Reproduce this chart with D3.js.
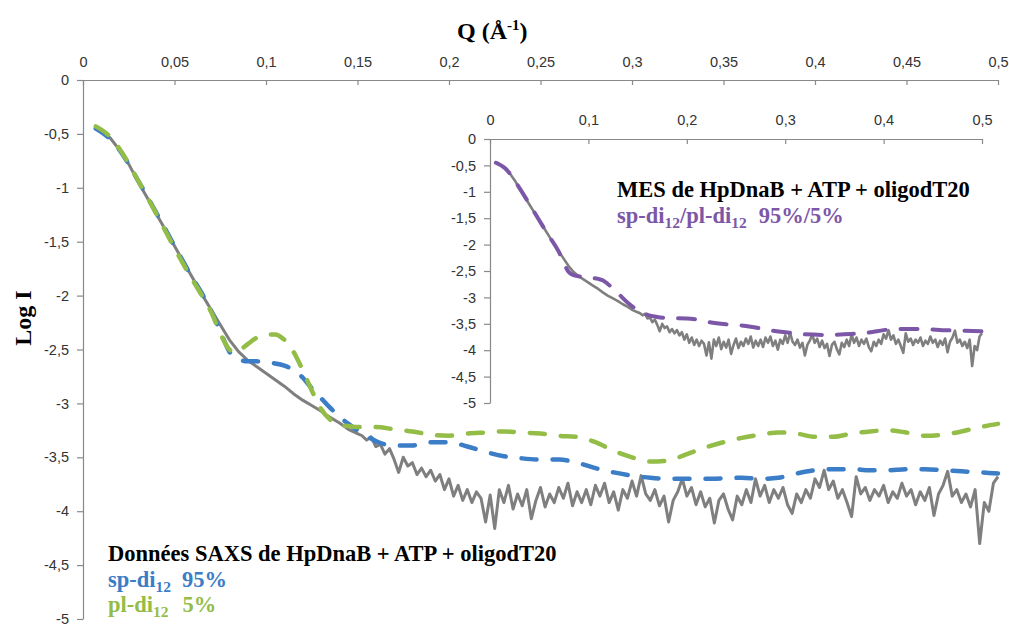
<!DOCTYPE html>
<html><head><meta charset="utf-8">
<script src="https://cdn.jsdelivr.net/npm/d3@7"></script>
<style>body{margin:0;background:#fff}svg{display:block}</style>
</head><body><div id="chart"></div>
<script>
// ---- data ----
const xTicks = [0,0.05,0.1,0.15,0.2,0.25,0.3,0.35,0.4,0.45,0.5];
const xTickLabels = ["0","0,05","0,1","0,15","0,2","0,25","0,3","0,35","0,4","0,45","0,5"];
const yTicks = [0,-0.5,-1,-1.5,-2,-2.5,-3,-3.5,-4,-4.5,-5];
const yTickLabels = ["0","-0,5","-1","-1,5","-2","-2,5","-3","-3,5","-4","-4,5","-5"];
const insetXTicks = [0,0.1,0.2,0.3,0.4,0.5];
const insetXTickLabels = ["0","0,1","0,2","0,3","0,4","0,5"];

// experimental SAXS curve (Q, log I)
const expQ = [0.007,0.01,0.015,0.02,0.025,0.03,0.035,0.04,0.045,0.05,0.055,0.06,0.065,0.07,0.075,0.08,0.085,0.09,0.095,0.1,0.105,0.11,0.115,0.12,0.125,0.13,0.135,0.14,0.145,
0.15,0.1525,0.155,0.1575,0.16,0.1625,0.165,0.1675,0.17,0.1725,0.175,0.1775,0.18,0.1825,0.185,0.1875,0.19,0.1925,0.195,0.1975,
0.2,0.2025,0.205,0.2075,0.21,0.2125,0.215,0.2175,0.22,0.2225,0.225,0.2275,0.23,0.2325,0.235,0.2375,0.24,0.2425,0.245,0.2475,
0.25,0.2525,0.255,0.2575,0.26,0.2625,0.265,0.2675,0.27,0.2725,0.275,0.2775,0.28,0.2825,0.285,0.2875,0.29,0.2925,0.295,0.2975,
0.3,0.3025,0.305,0.3075,0.31,0.3125,0.315,0.3175,0.32,0.3225,0.325,0.3275,0.33,0.3325,0.335,0.3375,0.34,0.3425,0.345,0.3475,
0.35,0.3525,0.355,0.3575,0.36,0.3625,0.365,0.3675,0.37,0.3725,0.375,0.3775,0.38,0.3825,0.385,0.3875,0.39,0.3925,0.395,0.3975,
0.4,0.4025,0.405,0.4075,0.41,0.4125,0.415,0.4175,0.42,0.4225,0.425,0.4275,0.43,0.4325,0.435,0.4375,0.44,0.4425,0.445,0.4475,
0.45,0.4525,0.455,0.4575,0.46,0.4625,0.465,0.4675,0.47,0.4725,0.475,0.4775,0.48,0.4825,0.485,0.4875,0.49,0.4925,0.495,0.4975,0.5];
const expLogI = [-0.44,-0.48,-0.54,-0.65,-0.78,-0.94,-1.09,-1.24,-1.39,-1.54,-1.69,-1.84,-1.99,-2.13,-2.27,-2.41,-2.52,-2.60,-2.66,-2.72,-2.78,-2.84,-2.91,-2.97,-3.02,-3.07,-3.13,-3.18,-3.24,
-3.28,-3.30,-3.34,-3.31,-3.40,-3.38,-3.47,-3.42,-3.52,-3.64,-3.50,-3.58,-3.55,-3.66,-3.60,-3.68,-3.62,-3.72,-3.66,-3.80,
-3.70,-3.86,-3.76,-3.90,-3.80,-3.92,-3.82,-3.88,-4.10,-3.85,-4.16,-3.80,-3.92,-3.76,-3.98,-3.84,-3.95,-3.80,-4.07,-3.90,
-3.78,-3.96,-3.84,-3.92,-3.78,-3.88,-3.74,-3.95,-3.82,-3.92,-3.80,-3.94,-3.76,-3.86,-3.74,-3.92,-3.82,-3.99,-3.80,-3.88,
-3.72,-3.86,-3.67,-3.84,-3.90,-3.80,-3.95,-3.86,-4.10,-3.90,-3.82,-3.70,-3.86,-3.78,-3.94,-3.82,-3.96,-3.88,-4.11,-3.90,
-3.84,-3.98,-4.08,-3.86,-3.94,-3.80,-3.92,-3.70,-3.86,-3.76,-3.92,-3.80,-3.88,-3.78,-3.94,-4.02,-3.84,-3.92,-3.80,-3.88,
-3.70,-3.78,-3.62,-3.80,-3.72,-3.88,-3.80,-3.92,-4.05,-3.68,-3.84,-3.78,-3.90,-3.80,-3.86,-3.76,-3.92,-3.82,-3.88,-3.74,
-3.86,-3.80,-3.94,-3.82,-3.90,-3.78,-4.04,-3.84,-3.76,-3.63,-3.86,-3.80,-3.92,-3.84,-3.96,-3.80,-4.30,-3.92,-4.00,-3.74,-3.68];

// sp-di12 model (95%)
const spQ = [0.007,0.015,0.02,0.03,0.04,0.05,0.06,0.065,0.07,0.075,0.08,0.085,0.09,0.095,0.1,0.105,0.11,0.115,0.12,0.125,0.13,0.135,0.14,0.145,0.15,0.155,0.16,0.165,0.17,0.18,0.19,0.2,0.21,0.22,0.23,0.24,0.25,0.26,0.27,0.28,0.29,0.3,0.31,0.32,0.34,0.36,0.37,0.38,0.39,0.4,0.41,0.42,0.43,0.44,0.45,0.46,0.47,0.48,0.49,0.5];
const spLogI = [-0.45,-0.55,-0.65,-0.93,-1.23,-1.54,-1.84,-1.98,-2.14,-2.33,-2.52,-2.59,-2.61,-2.61,-2.62,-2.63,-2.65,-2.69,-2.76,-2.86,-2.95,-3.04,-3.12,-3.19,-3.25,-3.30,-3.35,-3.38,-3.39,-3.39,-3.36,-3.36,-3.40,-3.45,-3.49,-3.51,-3.52,-3.52,-3.55,-3.60,-3.64,-3.67,-3.69,-3.70,-3.70,-3.69,-3.70,-3.69,-3.65,-3.62,-3.61,-3.61,-3.62,-3.62,-3.61,-3.61,-3.62,-3.63,-3.64,-3.65];

// pl-di12 model (5%)
const plQ = [0.007,0.015,0.02,0.03,0.04,0.05,0.06,0.065,0.07,0.075,0.08,0.083,0.087,0.09,0.095,0.1,0.105,0.11,0.115,0.12,0.125,0.13,0.135,0.14,0.145,0.15,0.16,0.17,0.18,0.19,0.2,0.21,0.22,0.23,0.24,0.25,0.26,0.27,0.28,0.29,0.3,0.31,0.32,0.33,0.34,0.35,0.36,0.37,0.38,0.39,0.4,0.41,0.42,0.43,0.44,0.45,0.46,0.47,0.48,0.49,0.5];
const plLogI = [-0.43,-0.53,-0.64,-0.93,-1.24,-1.56,-1.86,-2.00,-2.15,-2.35,-2.50,-2.53,-2.49,-2.45,-2.39,-2.36,-2.36,-2.41,-2.52,-2.69,-2.88,-3.05,-3.15,-3.20,-3.21,-3.22,-3.22,-3.24,-3.26,-3.29,-3.30,-3.28,-3.27,-3.26,-3.27,-3.28,-3.30,-3.31,-3.36,-3.44,-3.50,-3.54,-3.53,-3.47,-3.41,-3.36,-3.32,-3.29,-3.27,-3.28,-3.31,-3.31,-3.28,-3.26,-3.25,-3.27,-3.30,-3.29,-3.26,-3.22,-3.19];

// MES fit sp-di12/pl-di12 95%/5% (inset)
const mesQ = [0.006,0.015,0.02,0.03,0.04,0.05,0.06,0.07,0.075,0.08,0.085,0.09,0.1,0.11,0.115,0.12,0.13,0.14,0.15,0.16,0.17,0.18,0.2,0.21,0.22,0.24,0.26,0.27,0.28,0.3,0.32,0.34,0.36,0.37,0.38,0.39,0.4,0.41,0.42,0.44,0.45,0.46,0.48,0.5];
const mesLogI = [-0.45,-0.55,-0.65,-0.93,-1.23,-1.54,-1.84,-2.14,-2.35,-2.52,-2.58,-2.60,-2.62,-2.65,-2.68,-2.75,-2.92,-3.10,-3.24,-3.33,-3.37,-3.39,-3.40,-3.42,-3.46,-3.51,-3.54,-3.57,-3.61,-3.66,-3.70,-3.71,-3.70,-3.69,-3.68,-3.65,-3.62,-3.60,-3.60,-3.60,-3.61,-3.62,-3.63,-3.64];

// ---- drawing ----
const W = 1009, H = 626;
const svg = d3.select("#chart").append("svg").attr("width", W).attr("height", H);
const axisCol = "#898989", labCol = "#333";
const tickFont = "Liberation Sans, Arial, sans-serif";
const serif = "Liberation Serif, Times New Roman, serif";
const C = {exp:"#7f7f7f", sp:"#3b7dc6", pl:"#93bd47", mes:"#7c57a8"};

function zip(a,b){return a.map((q,i)=>[q,b[i]]);}

function drawPanel(g, x, y, xt, xtl, pad){
  const ax = g.append("g").attr("transform",`translate(0,${y(0)})`)
    .call(d3.axisTop(x).tickValues(xt).tickFormat((d,i)=>xtl[i]).tickSizeInner(-5).tickSizeOuter(0).tickPadding(pad));
  const ay = g.append("g").attr("transform",`translate(${x(0)},0)`)
    .call(d3.axisLeft(y).tickValues(yTicks).tickFormat((d,i)=>yTickLabels[i]).tickSizeInner(6).tickSizeOuter(0).tickPadding(8));
  [ax,ay].forEach(a=>{
    a.selectAll("path,line").attr("stroke",axisCol).attr("stroke-width",1.2);
    a.selectAll("text").attr("fill",labCol).style("font-family",tickFont).style("font-size","14.5px");
  });
}

// main panel
const x = d3.scaleLinear().domain([0,0.5]).range([83,998]);
const y = d3.scaleLinear().domain([0,-5]).range([80,619]);
const main = svg.append("g");
drawPanel(main, x, y, xTicks, xTickLabels, 13);

const lineLin = d3.line().x(d=>x(d[0])).y(d=>y(d[1]));
const lineSm = d3.line().x(d=>x(d[0])).y(d=>y(d[1])).curve(d3.curveMonotoneX);
main.append("path").attr("d", lineLin(zip(expQ,expLogI))).attr("fill","none").attr("stroke",C.exp).attr("stroke-width",3).attr("stroke-linejoin","round");
main.append("path").attr("d", lineSm(zip(spQ,spLogI))).attr("fill","none").attr("stroke",C.sp).attr("stroke-width",4.5).attr("stroke-linecap","round").attr("stroke-dasharray","15,16");
main.append("path").attr("d", lineSm(zip(plQ,plLogI))).attr("fill","none").attr("stroke",C.pl).attr("stroke-width",4.5).attr("stroke-linecap","round").attr("stroke-dasharray","15,16");

// inset panel
const xi = d3.scaleLinear().domain([0,0.5]).range([490,982]);
const yi = d3.scaleLinear().domain([0,-5]).range([139,403]);
const inset = svg.append("g");
drawPanel(inset, xi, yi, insetXTicks, insetXTickLabels, 14);
const lineLinI = d3.line().x(d=>xi(d[0])).y(d=>yi(d[1]));
const lineSmI = d3.line().x(d=>xi(d[0])).y(d=>yi(d[1])).curve(d3.curveMonotoneX);
inset.append("path").attr("d", lineLinI(zip(expQ,expLogI))).attr("fill","none").attr("stroke",C.exp).attr("stroke-width",2.6).attr("stroke-linejoin","round");
inset.append("path").attr("d", lineSmI(zip(mesQ,mesLogI))).attr("fill","none").attr("stroke",C.mes).attr("stroke-width",4).attr("stroke-linecap","round").attr("stroke-dasharray","17,15");

// axis titles
const qt = svg.append("text").attr("x",457).attr("y",39).attr("fill","#000")
  .style("font-family",serif).style("font-weight","bold").style("font-size","24px");
qt.append("tspan").text("Q (Å");
qt.append("tspan").attr("dy",-9).style("font-size","15px").text("-1");
qt.append("tspan").attr("dy",9).text(")");

svg.append("text").attr("transform","translate(31,318) rotate(-90)").attr("text-anchor","middle")
  .attr("fill","#000").style("font-family",serif).style("font-weight","bold").style("font-size","24px").text("Log I");

// annotations
function lbl(xp, yp, color, parts){
  const t = svg.append("text").attr("x",xp).attr("y",yp).attr("fill",color)
    .style("font-family",serif).style("font-weight","bold").style("font-size","22.5px");
  parts.forEach(p=>{
    const s = t.append("tspan").text(p.t);
    if(p.sub){ s.attr("dy",5).style("font-size","15.5px"); }
    if(p.back){ s.attr("dy",-5); }
    if(p.dx){ s.attr("dx",p.dx); }
  });
}
lbl(108,561,"#000",[{t:"Données SAXS de HpDnaB + ATP + oligodT20"}]);
lbl(108,587,C.sp,[{t:"sp-di"},{t:"12",sub:true},{t:"95%",back:true,dx:11}]);
lbl(108,612,C.pl,[{t:"pl-di"},{t:"12",sub:true},{t:"5%",back:true,dx:14}]);
lbl(617,197,"#000",[{t:"MES de HpDnaB + ATP + oligodT20"}]);
lbl(617,223,C.mes,[{t:"sp-di"},{t:"12",sub:true},{t:"/pl-di",back:true},{t:"12",sub:true},{t:"95%/5%",back:true,dx:12}]);
</script></body></html>
